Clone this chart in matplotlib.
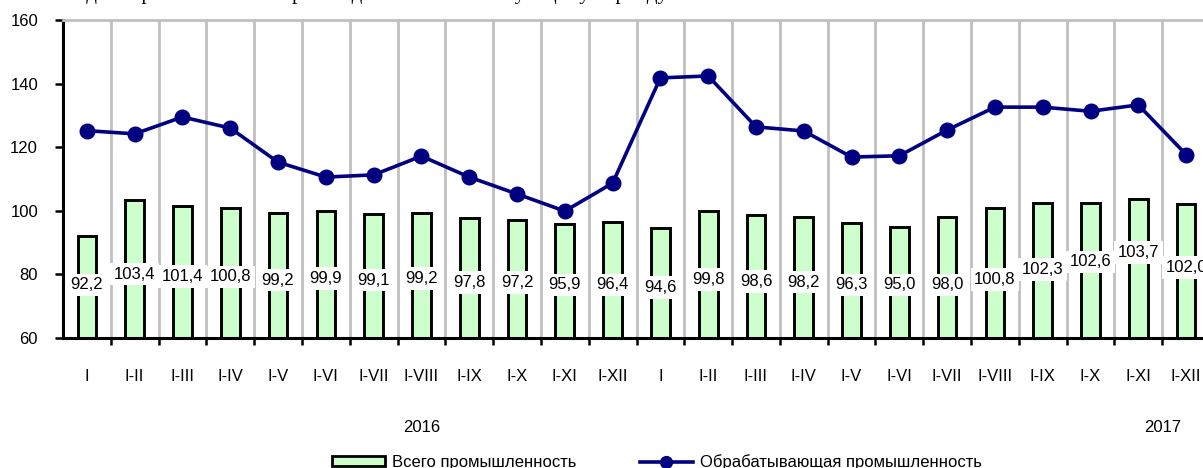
import matplotlib
matplotlib.use("Agg")
import matplotlib.pyplot as plt
import numpy as np
from matplotlib.patches import Patch
from matplotlib.lines import Line2D
import matplotlib.transforms as mtransforms

plt.rcParams['font.family'] = ['Liberation Sans', 'DejaVu Sans']

categories = ["I", "I-II", "I-III", "I-IV", "I-V", "I-VI", "I-VII", "I-VIII", "I-IX", "I-X", "I-XI", "I-XII",
              "I", "I-II", "I-III", "I-IV", "I-V", "I-VI", "I-VII", "I-VIII", "I-IX", "I-X", "I-XI", "I-XII"]
total_industry = [92.2, 103.4, 101.4, 100.8, 99.2, 99.9, 99.1, 99.2, 97.8, 97.2, 95.9, 96.4,
                  94.6, 99.8, 98.6, 98.2, 96.3, 95.0, 98.0, 100.8, 102.3, 102.6, 103.7, 102.0]
manufacturing = [125.2, 124.2, 129.5, 126.0, 115.3, 110.6, 111.3, 117.2, 110.6, 105.3, 99.9, 108.7,
                 141.8, 142.4, 126.4, 125.1, 116.9, 117.3, 125.4, 132.6, 132.6, 131.3, 133.3, 117.7]
year_labels = ["2016", "2017"]
series_names = ["Всего промышленность", "Обрабатывающая промышленность"]
y_ticks = [60, 80, 100, 120, 140, 160]

# layout: vertical position of the value-label boxes (data units)
label_y = [76.7, 80.1, 79.3, 79.2, 78.2, 78.7, 78.2, 78.7, 77.5, 77.5, 76.7, 76.7,
           75.9, 78.4, 77.8, 77.6, 76.7, 76.7, 76.7, 78.4, 81.5, 83.9, 86.9, 82.2]
year_x = [7.0, 22.5]

W, H = 1203, 468
fig = plt.figure(figsize=(W / 100, H / 100), dpi=100)
ax = fig.add_axes([63 / W, 1 - 338 / H, (1210 - 63) / W, (338 - 20) / H])

x = np.arange(len(categories))
bar_color = '#ccffcc'
line_color = '#000080'

ax.bar(x, total_industry, width=0.39, bottom=0, color=bar_color, edgecolor='black',
       linewidth=2.1, zorder=2)
ax.plot(x, manufacturing, color=line_color, lw=2.6, marker='o', ms=10.5, zorder=4)

for xi, v, ly in zip(x, total_industry, label_y):
    ax.text(xi, ly, f"{v:.1f}".replace('.', ','), ha='center', va='center', fontsize=12,
            zorder=5, bbox=dict(boxstyle='square,pad=0.22', fc='white', ec='none'))

ax.set_xlim(-0.5, len(categories) - 0.5)
ax.set_ylim(60, 160)
ax.set_yticks(y_ticks)
ax.tick_params(axis='y', direction='out', length=6, width=1.8, pad=12, labelsize=12)

ax.set_xticks(x[:-1] + 0.5)
ax.set_xticklabels([])
ax.tick_params(axis='x', which='major', direction='out', length=5, width=1.8)
ax.set_xticks(x, minor=True)
ax.set_xticklabels(categories, minor=True, fontsize=12)
ax.tick_params(axis='x', which='minor', length=0, pad=22)

ax.grid(axis='x', which='major', color='#c0c0c0', lw=2.0, zorder=0)
ax.set_axisbelow(True)

for s in ['left', 'bottom']:
    ax.spines[s].set_linewidth(2.2)
    ax.spines[s].set_color('black')
ax.spines['top'].set_color('#c0c0c0')
ax.spines['top'].set_linewidth(2.0)
ax.spines['right'].set_visible(False)

trans = mtransforms.blended_transform_factory(ax.transData, ax.transAxes)
for yx, yl in zip(year_x, year_labels):
    ax.text(yx, -0.28, yl, transform=trans, ha='center', va='center', fontsize=12)

# title, almost entirely above the visible area (only descenders show, as in the reference)
fig.text(60 / W, 1 + 1.5 / H, "Индекс промышленного производства к соответствующему периоду",
         family='Liberation Serif', fontsize=15, ha='left', va='baseline', color='black')

handles = [Patch(facecolor=bar_color, edgecolor='black', linewidth=2.0),
           Line2D([], [], color=line_color, lw=2.6, marker='o', ms=8.5)]
fig.legend(handles, series_names, loc='center', bbox_to_anchor=(0.546, 0.012), ncol=2,
           frameon=False, fontsize=12, handlelength=3.2, handleheight=0.55,
           handletextpad=0.4, columnspacing=3.8, borderpad=0)

fig.savefig('out.png', dpi=100)
